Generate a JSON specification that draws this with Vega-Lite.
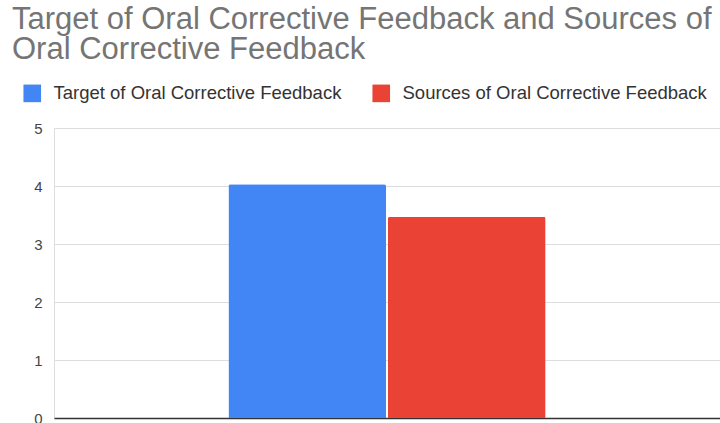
{
  "$schema": "https://vega.github.io/schema/vega-lite/v6.json",
  "width": 666,
  "height": 290,
  "autosize": {"type": "none"},
  "padding": {"left": 54, "top": 128, "right": 0, "bottom": 5},
  "background": "white",
  "title": {
    "text": ["Target of Oral Corrective Feedback and Sources of", "Oral Corrective Feedback"],
    "anchor": "start",
    "frame": "group",
    "font": "Liberation Sans",
    "fontSize": 31,
    "fontWeight": "normal",
    "color": "#757575",
    "lineHeight": 30,
    "dx": -42,
    "offset": 18
  },
  "data": {
    "values": [
      {"group": "All", "series": "Target of Oral Corrective Feedback", "value": 4.03},
      {"group": "All", "series": "Sources of Oral Corrective Feedback", "value": 3.47}
    ]
  },
  "mark": {"type": "bar", "cornerRadiusTopLeft": 2, "cornerRadiusTopRight": 2},
  "encoding": {
    "x": {
      "field": "group",
      "type": "nominal",
      "scale": {"paddingInner": 0, "paddingOuter": 0.55},
      "axis": {"title": null, "labels": false, "ticks": false, "domainColor": "#333333", "domainWidth": 1.5}
    },
    "xOffset": {
      "field": "series",
      "type": "nominal",
      "sort": ["Target of Oral Corrective Feedback", "Sources of Oral Corrective Feedback"],
      "scale": {"paddingInner": 0.0125, "paddingOuter": 0}
    },
    "y": {
      "field": "value",
      "type": "quantitative",
      "scale": {"domain": [0, 5]},
      "axis": {
        "title": null,
        "values": [0, 1, 2, 3, 4, 5],
        "ticks": false,
        "domain": false,
        "gridColor": "#dddddd",
        "labelFont": "Liberation Sans",
        "labelFontSize": 15,
        "labelColor": "#444444",
        "labelPadding": 12
      }
    },
    "color": {
      "field": "series",
      "type": "nominal",
      "sort": ["Target of Oral Corrective Feedback", "Sources of Oral Corrective Feedback"],
      "scale": {"range": ["#4285F4", "#EA4335"]},
      "legend": {
        "title": null,
        "orient": "none",
        "direction": "horizontal",
        "legendX": -31,
        "legendY": -44,
        "symbolType": "square",
        "symbolSize": 310,
        "symbolStrokeWidth": 0,
        "labelFont": "Liberation Sans",
        "labelFontSize": 18.5,
        "labelColor": "#333333",
        "labelOffset": 12,
        "columnPadding": 30,
        "labelLimit": 400
      }
    }
  }
}
